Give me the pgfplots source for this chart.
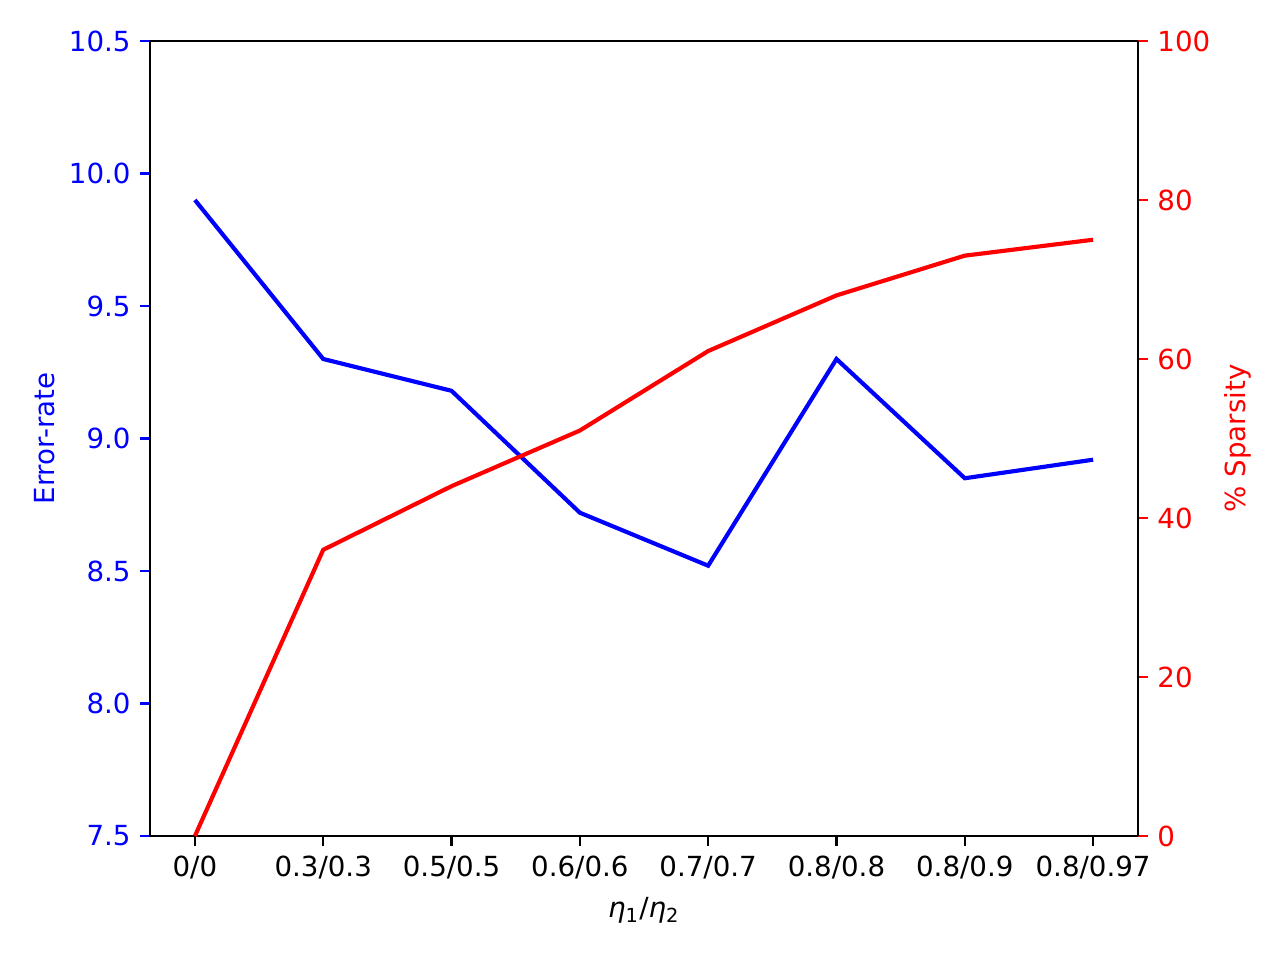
\documentclass[border=0pt]{standalone}
\usepackage{fontspec}
\setmainfont{DejaVu Sans}
\usepackage{pgfplots}
\pgfplotsset{compat=1.18}

\pgfplotsset{
  common/.style={
    scale only axis,
    width=4.94in, height=3.975in,
    xmin=-0.35, xmax=7.35,
    tick align=outside,
    major tick length=3.5pt,
    axis line style={line width=0.8pt},
    every tick/.style={line width=0.8pt},
    tick label style={font=\fontsize{10}{12}\selectfont},
    label style={font=\fontsize{10}{12}\selectfont},
    /pgf/number format/assume math mode=true,
  },
}

\begin{document}
\begin{tikzpicture}
\path[use as bounding box] (-0.75in,-0.62in) rectangle (5.65in,4.18in);
\begin{axis}[
    common,
    ymin=7.5, ymax=10.5,
    ytick={7.5,8.0,8.5,9.0,9.5,10.0,10.5},
    yticklabel style={blue, /pgf/number format/.cd, fixed, fixed zerofill, precision=1},
    ytick style={blue, line width=0.8pt},
    xtick pos=bottom, ytick pos=left,
    xtick={0,1,2,3,4,5,6,7},
    xticklabels={0/0,0.3/0.3,0.5/0.5,0.6/0.6,0.7/0.7,0.8/0.8,0.8/0.9,0.8/0.97},
    xlabel={\textit{η}\textsubscript{1}/\textit{η}\textsubscript{2}},
    ylabel={Error-rate},
    ylabel style={blue, yshift=-1.8pt},
]
\addplot[blue, line width=1.5pt] coordinates {
    (0, 9.90) (1, 9.30) (2, 9.18) (3, 8.72)
    (4, 8.52) (5, 9.30) (6, 8.85) (7, 8.92)
};
\end{axis}
\begin{axis}[
    common,
    axis x line=none,
    axis y line*=right,
    ymin=0, ymax=100,
    ytick={0,20,40,60,80,100},
    yticklabel style={red},
    ytick style={red, line width=0.8pt},
    ylabel={\% Sparsity},
    ylabel style={red, yshift=1.8pt},
]
\addplot[red, line width=1.5pt] coordinates {
    (0, 0) (1, 36) (2, 44) (3, 51)
    (4, 61) (5, 68) (6, 73) (7, 75)
};
\end{axis}
\end{tikzpicture}
\end{document}
